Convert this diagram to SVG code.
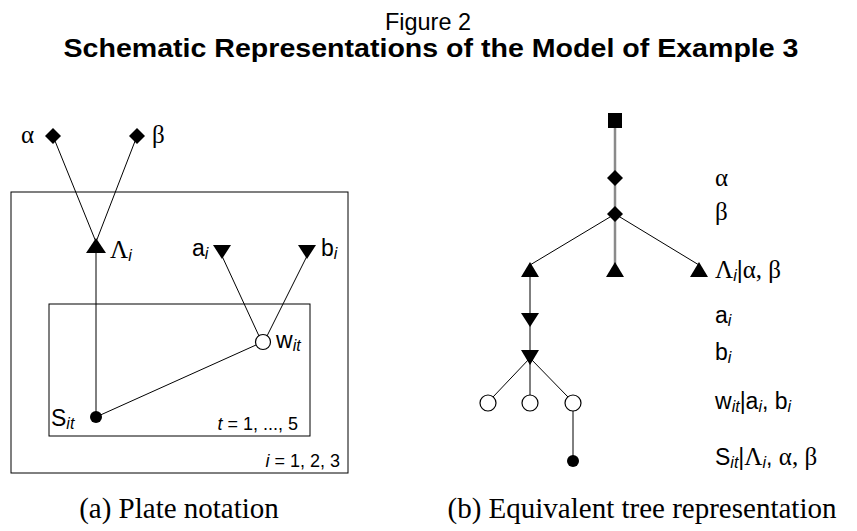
<svg xmlns="http://www.w3.org/2000/svg" width="857" height="531" viewBox="0 0 857 531">
<style>
.lab{font-family:"Liberation Sans",Arial,sans-serif;font-size:23px;fill:#000}
.idx{font-family:"Liberation Sans",Arial,sans-serif;font-size:18px;fill:#000}
.gr{font-family:"Liberation Serif","Times New Roman",serif;font-size:25px}
.sub{font-style:italic;font-size:16px}
.cap{font-family:"Liberation Serif","Times New Roman",serif;font-size:29px;fill:#000}
.ln{stroke:#000;stroke-width:1;fill:none}
.trunk{stroke:#8a8a8a;stroke-width:2.5;fill:none}
.box{stroke:#000;stroke-width:1;fill:none}
.fill{fill:#000}
.open{fill:#fff;stroke:#000;stroke-width:1.2}
</style>
<rect width="857" height="531" fill="#fff"/>
<g id="title">
<text x="428" y="30" text-anchor="middle" font-family="'Liberation Sans',sans-serif" font-size="24" textLength="86" lengthAdjust="spacingAndGlyphs">Figure 2</text>
<text x="431" y="57" text-anchor="middle" font-family="'Liberation Sans',sans-serif" font-size="26" font-weight="bold" textLength="735" lengthAdjust="spacingAndGlyphs">Schematic Representations of the Model of Example 3</text>
</g>
<g id="plates">
<rect class="box" x="11" y="192" width="337" height="281"/>
<rect class="box" x="49" y="304" width="261" height="132"/>
<text class="idx" x="340" y="467" text-anchor="end"><tspan font-style="italic">i</tspan> = 1, 2, 3</text>
<text class="idx" x="298" y="430" text-anchor="end"><tspan font-style="italic">t</tspan> = 1, ..., 5</text>
</g>
<g id="connectors">
<line class="ln" x1="53" y1="136" x2="96" y2="242"/>
<line class="ln" x1="137" y1="136" x2="96" y2="242"/>
<line class="ln" x1="96" y1="253" x2="96" y2="417"/>
<line class="ln" x1="222" y1="256" x2="259" y2="336"/>
<line class="ln" x1="307" y1="256" x2="267" y2="336"/>
<line class="ln" x1="96" y1="417" x2="256" y2="345"/>
<line class="trunk" x1="615" y1="128" x2="615" y2="264"/>
<line class="ln" x1="615" y1="214" x2="530" y2="265"/>
<line class="ln" x1="615" y1="214" x2="699" y2="265"/>
<line class="ln" x1="530" y1="277" x2="530" y2="360"/>
<line class="ln" x1="530" y1="358" x2="493" y2="397"/>
<line class="ln" x1="530" y1="358" x2="530" y2="396"/>
<line class="ln" x1="530" y1="358" x2="568" y2="397"/>
<line class="ln" x1="573" y1="411" x2="573" y2="461"/>
</g>
<g id="alpha">
<polygon class="fill" points="53,128 61,136 53,144 45,136"/>
<text class="lab gr" x="21" y="143">α</text>
</g>
<g id="beta">
<polygon class="fill" points="137,128 145,136 137,144 129,136"/>
<text class="lab gr" x="152" y="143">β</text>
</g>
<g id="Lambda">
<polygon class="fill" points="96,238 106,253 86,253"/>
<text class="lab" x="110" y="258"><tspan class="gr">Λ</tspan><tspan class="sub" dy="3">i</tspan></text>
</g>
<g id="a">
<polygon class="fill" points="213,245 231,245 222,259"/>
<text class="lab" x="192" y="256">a<tspan class="sub" dy="3">i</tspan></text>
</g>
<g id="b">
<polygon class="fill" points="298,245 316,245 307,259"/>
<text class="lab" x="321" y="256">b<tspan class="sub" dy="3">i</tspan></text>
</g>
<g id="w">
<circle class="open" cx="263" cy="342" r="7.5"/>
<text class="lab" x="276" y="348">w<tspan class="sub" dy="3">it</tspan></text>
</g>
<g id="S">
<circle class="fill" cx="96" cy="417" r="6"/>
<text class="lab" x="51" y="426">S<tspan class="sub" dy="3">it</tspan></text>
</g>
<g id="tree-root">
<rect class="fill" x="608" y="113" width="14" height="15"/>
</g>
<g id="tree-alpha">
<polygon class="fill" points="615,170 623,178 615,186 607,178"/>
<text class="lab gr" x="715" y="186">α</text>
</g>
<g id="tree-beta">
<polygon class="fill" points="615,206 623,214 615,222 607,214"/>
<text class="lab gr" x="715" y="220">β</text>
</g>
<g id="tree-Lambda">
<polygon class="fill" points="530,262 539,277 521,277"/>
<polygon class="fill" points="615,262 624,277 606,277"/>
<polygon class="fill" points="699,262 708,277 690,277"/>
<text class="lab" x="715" y="278"><tspan class="gr">Λ</tspan><tspan class="sub" dy="3">i</tspan><tspan dy="-3">|</tspan><tspan class="gr">α, β</tspan></text>
</g>
<g id="tree-a">
<polygon class="fill" points="521,313 539,313 530,327"/>
<text class="lab" x="715" y="323">a<tspan class="sub" dy="3">i</tspan></text>
</g>
<g id="tree-b">
<polygon class="fill" points="521,350 539,350 530,365"/>
<text class="lab" x="715" y="360">b<tspan class="sub" dy="3">i</tspan></text>
</g>
<g id="tree-w">
<circle class="open" cx="488" cy="403" r="8"/>
<circle class="open" cx="530" cy="403" r="8"/>
<circle class="open" cx="573" cy="403" r="8"/>
<text class="lab" x="715" y="409">w<tspan class="sub" dy="3">it</tspan><tspan dy="-3">|a</tspan><tspan class="sub" dy="3">i</tspan><tspan dy="-3">, b</tspan><tspan class="sub" dy="3">i</tspan></text>
</g>
<g id="tree-S">
<circle class="fill" cx="573" cy="461" r="6"/>
<text class="lab" x="715" y="465">S<tspan class="sub" dy="3">it</tspan><tspan dy="-3">|</tspan><tspan class="gr">Λ</tspan><tspan class="sub" dy="3">i</tspan><tspan dy="-3">, </tspan><tspan class="gr">α, β</tspan></text>
</g>
<g id="captions">
<text class="cap" x="179" y="518" text-anchor="middle">(a) Plate notation</text>
<text class="cap" x="642" y="518" text-anchor="middle">(b) Equivalent tree representation</text>
</g>
</svg>
